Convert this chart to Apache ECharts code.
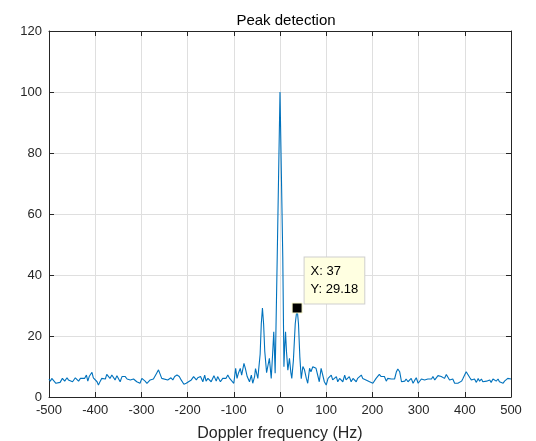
<!DOCTYPE html>
<html>
<head>
<meta charset="utf-8">
<script src="https://cdn.jsdelivr.net/npm/echarts@6/dist/echarts.min.js"></script>
<style>
  html, body { margin: 0; background: #fff; }
  #chart-container { width: 536px; height: 441px; }
</style>
</head>
<body>
<div id="chart-container"></div>
<script>
// spectrum (Hz, amplitude)
const freq = [
  -500,-497,-494,-490,-485,-481,-476,-471,-466,-461,-458,-454,-449,-443,-440,-436,-432,-429,-423,-419,
  -416,-413,-409,-407,-404,-400,-396,-393,-389,-386,-382,-378,-375,-371,-368,-364,-360,-357,-353,-349,
  -346,-342,-339,-335,-331,-328,-324,-321,-317,-313,-310,-306,-303,-299,-295,-292,-288,-285,-281,-277,
  -274,-270,-267,-263,-259,-256,-252,-243,-236,-232,-228,-223,-218,-214,-208,-203,-198,-192,-187,-181,
  -178,-172,-167,-163,-160,-156,-153,-149,-143,-138,-135,-129,-124,-120,-117,-113,-109,-106,-100,-96,
  -93,-90,-86,-83,-78,-75,-71,-66,-62,-59,-55,-53,-48,-46,-43,-40.5,-38,-35.5,-33,-29,
  -26,-23,-19,-16,-13.5,-12,-10.5,-9,-6,-3,0,3,6,8.5,10,12,14,17,20.5,23.5,
  25.5,29,33,37,40,43,46,49.5,53,57,60,64,67,71,75,78,82,85,89,93,
  96,100,104,107,111,114,118,122,125,129,132,136,140,143,147,150,154,158,161,165,
  168,172,176,179,183,186,190,194,197,201,205,208,212,215,219,223,226,230,233,237,
  241,245,248,252,255,259,263,266,270,273,277,281,284,288,292,295,299,302,306,310,
  313,317,320,324,328,331,335,338,342,346,349,353,356,360,364,367,371,374,378,382,
  385,389,393,396,400,403,407,411,414,418,421,425,429,432,436,439,443,447,450,454,
  457,461,465,468,472,475,479,483,486,490,493,497,500
]
const amp = [
  5.9,5.2,6.1,5.6,4.5,3.9,4.8,6.1,5.2,6.3,5.6,6.1,5.0,6.3,6.1,5.2,6.1,5.6,6.1,7.2,
  5.2,6.7,7.2,8.1,6.3,6.1,5.0,3.9,5.2,6.1,6.7,5.9,7.4,7.0,6.1,7.2,6.7,5.6,7.0,7.4,
  5.0,6.7,6.1,6.7,5.9,6.1,5.6,5.2,5.9,6.1,5.0,5.2,4.5,6.1,6.3,5.2,4.5,5.0,5.6,5.2,
  5.9,6.1,7.8,8.9,8.3,6.1,5.9,5.6,6.3,5.6,6.7,7.2,6.7,5.6,4.2,4.5,5.0,5.6,6.7,5.6,
  6.3,6.7,5.0,7.2,5.2,6.1,6.7,5.0,7.0,5.2,6.7,5.0,6.1,6.7,6.1,7.2,6.1,6.7,4.5,9.4,
  6.1,7.8,9.4,7.2,11.0,9.4,6.7,5.0,7.2,4.5,6.7,9.3,6.1,6.0,14,24,29.2,24,15,8,
  7.8,12.7,6.1,14,21.4,15,7.8,20,46,73,100,73,46,9.9,16,21.4,15,8.8,12.7,8,
  6.1,12,24,29.18,24,13,6,10,8.9,6.1,4.5,9.4,8.3,9.9,10.5,9.4,8.9,5.0,9.4,8.9,
  5.0,3.9,6.1,6.7,7.2,5.6,6.1,6.7,5.0,6.1,6.7,5.0,7.2,5.6,6.1,6.7,5.0,6.1,6.7,5.0,
  6.1,6.7,7.2,6.1,6.7,5.6,5.2,5.0,4.5,4.5,3.9,6.1,6.7,7.4,6.7,6.1,6.7,5.2,6.1,5.6,
  5.9,5.6,5.9,8.3,9.2,8.3,5.0,4.5,5.2,5.9,5.0,5.6,6.1,4.5,5.6,6.3,4.5,5.0,5.9,5.6,
  5.6,6.1,5.9,5.6,5.9,6.7,5.6,5.0,7.0,7.4,6.7,7.2,6.1,7.4,7.0,5.6,5.2,5.9,4.5,5.0,
  4.5,3.9,5.2,6.1,6.7,8.3,7.8,6.3,5.6,5.0,5.9,4.8,6.1,5.2,5.9,5.0,5.6,5.2,4.8,5.6,
  4.8,5.9,6.1,5.2,5.9,5.0,5.6,4.5,5.2,5.6,6.1,5.6,5.9
]

// data tip
const tipPoint = [37, 29.18]

const xTicks = [-500, 500, 100]
const yTicks = [0, 120, 20]

const axisColor = '#262626'
const gridColor = '#dfdfdf'
const font = 'Liberation Sans, Arial, sans-serif'

const dom = document.getElementById('chart-container')
const myChart = echarts.init(dom, null, { renderer: 'canvas' })

const boxAxis = (pos, ticks, showLabel) => ({
  type: 'value',
  position: pos,
  min: ticks[0],
  max: ticks[1],
  interval: ticks[2],
  axisLine: { show: true, onZero: false, lineStyle: { color: axisColor, width: 1 } },
  axisTick: { show: true, inside: true, length: 5, lineStyle: { color: axisColor } },
  axisLabel: {
    show: showLabel,
    color: axisColor,
    fontFamily: font,
    fontSize: 13,
    margin: 7
  },
  splitLine: { show: showLabel, lineStyle: { color: gridColor, width: 1 } }
})

const xMain = boxAxis('bottom', xTicks, true)
xMain.name = 'Doppler frequency (Hz)'
xMain.nameLocation = 'middle'
xMain.nameGap = 29
xMain.nameTextStyle = { color: axisColor, fontFamily: font, fontSize: 16 }

const options = {
  animation: false,
  backgroundColor: '#fff',
  title: {
    text: 'Peak detection',
    left: 281,
    top: 8,
    textAlign: 'center',
    textStyle: { fontFamily: font, fontSize: 15, fontWeight: 'normal', color: '#000' }
  },
  grid: { left: 49, right: 25, top: 31, bottom: 44, outerBoundsMode: 'none', containLabel: false },
  xAxis: [xMain, boxAxis('top', xTicks, false)],
  yAxis: [boxAxis('left', yTicks, true), boxAxis('right', yTicks, false)],
  series: [
    {
      type: 'line',
      data: freq.map((f, i) => [f, amp[i]]),
      showSymbol: false,
      lineStyle: { color: '#0072BD', width: 1.1 },
      itemStyle: { color: '#0072BD' }
    },
    {
      type: 'scatter',
      data: [tipPoint],
      symbol: 'rect',
      symbolSize: 10,
      z: 10,
      itemStyle: { color: '#000', opacity: 1, borderColor: '#fbfbd0', borderWidth: 1 },
      label: {
        show: true,
        position: [13, -45],
        formatter: p => 'X: ' + p.value[0] + '\nY: ' + p.value[1],
        align: 'left',
        verticalAlign: 'top',
        color: '#000',
        fontFamily: font,
        fontSize: 13,
        lineHeight: 18,
        backgroundColor: '#ffffe1',
        borderColor: '#cfcfcf',
        borderWidth: 1,
        padding: [5, 6, 5, 6]
      }
    }
  ]
}

myChart.setOption(options)
window.addEventListener('resize', myChart.resize)
</script>
</body>
</html>
